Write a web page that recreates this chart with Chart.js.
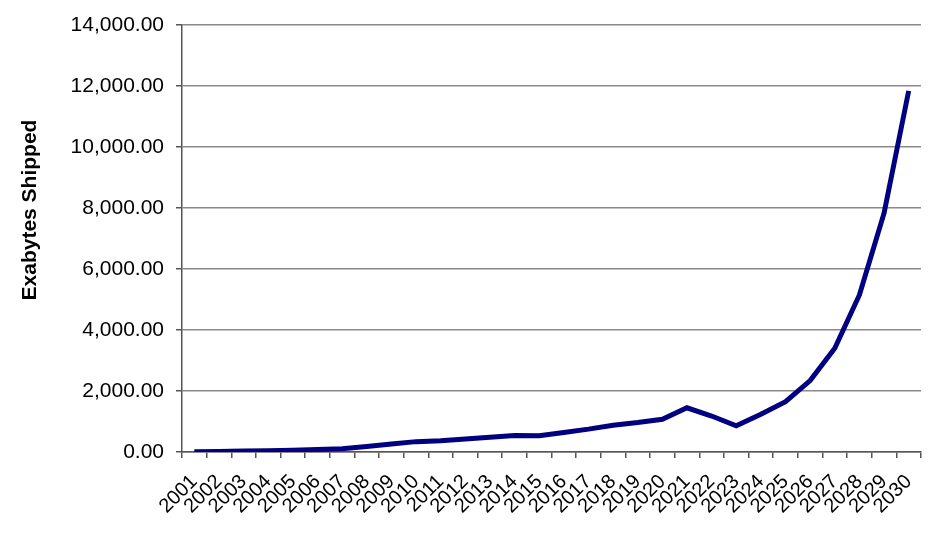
<!DOCTYPE html>
<html>
<head>
<meta charset="utf-8">
<title>Exabytes Shipped</title>
<script src="https://cdn.jsdelivr.net/npm/chart.js@4.4.1/dist/chart.umd.min.js"></script>
<style>
  html, body { margin: 0; padding: 0; background: #fff; }
  #wrap { width: 950px; height: 540px; }
</style>
</head>
<body>
<div id="wrap"><canvas id="chart"></canvas></div>
<script>
// years on the x axis
const years = [
  '2001', '2002', '2003', '2004', '2005', '2006', '2007', '2008', '2009', '2010',
  '2011', '2012', '2013', '2014', '2015', '2016', '2017', '2018', '2019', '2020',
  '2021', '2022', '2023', '2024', '2025', '2026', '2027', '2028', '2029', '2030'
];

// exabytes shipped per year
const exabytes = [
  10, 20, 30, 40, 60, 85, 110, 180, 260, 340,
  370, 425, 480, 540, 535, 640, 750, 880, 965, 1075,
  1450, 1180, 862, 1235, 1650, 2340, 3400, 5150, 7830, 11840
];

const yMin = 0;
const yMax = 14000;
const yStep = 2000;
const yTitle = 'Exabytes Shipped';

// draws the rotated axis title a bit above the middle, like the original
const yTitlePlugin = {
  id: 'yTitle',
  afterDraw(chart) {
    const ctx = chart.ctx;
    ctx.save();
    ctx.translate(30, 210);
    ctx.rotate(-Math.PI / 2);
    ctx.font = 'bold 21px "Liberation Sans", Arial, sans-serif';
    ctx.fillStyle = '#000';
    ctx.textAlign = 'center';
    ctx.textBaseline = 'middle';
    ctx.fillText(yTitle, 0, 0);
    ctx.restore();
  }
};

const ctx = document.getElementById('chart').getContext('2d');
new Chart(ctx, {
  type: 'line',
  data: {
    labels: years,
    datasets: [{
      label: yTitle,
      data: exabytes,
      borderColor: '#000080',
      backgroundColor: '#000080',
      borderWidth: 5,
      pointRadius: 0,
      tension: 0,
      fill: false
    }]
  },
  options: {
    responsive: true,
    maintainAspectRatio: false,
    animation: false,
    layout: { padding: { top: 25, right: 29, left: 0, bottom: 0 } },
    plugins: {
      legend: { display: false },
      tooltip: { enabled: false }
    },
    scales: {
      x: {
        offset: true,
        afterFit(scale) { scale.height = 88; },
        grid: {
          offset: true,
          drawOnChartArea: true,
          // only the right-hand edge of the plot gets a full line
          color: (c) => c.index === years.length ? '#808080' : 'rgba(0,0,0,0)',
          tickColor: '#555',
          tickLength: 6,
          lineWidth: 1.5
        },
        border: { color: '#555', width: 1.5 },
        ticks: {
          autoSkip: false,
          maxRotation: 45,
          minRotation: 45,
          padding: 12,
          color: '#000',
          font: { family: '"Liberation Sans", Arial, sans-serif', size: 20 }
        }
      },
      y: {
        min: yMin,
        max: yMax,
        afterFit(scale) { scale.width = 182; },
        grid: {
          color: '#8a8a8a',
          tickColor: '#555',
          tickLength: 6,
          lineWidth: 1.5
        },
        border: { color: '#555', width: 1.5 },
        ticks: {
          stepSize: yStep,
          padding: 12,
          color: '#000',
          font: { family: '"Liberation Sans", Arial, sans-serif', size: 21 },
          callback: (v) => v.toLocaleString('en-US', { minimumFractionDigits: 2, maximumFractionDigits: 2 })
        }
      }
    }
  },
  plugins: [yTitlePlugin]
});
</script>
</body>
</html>
